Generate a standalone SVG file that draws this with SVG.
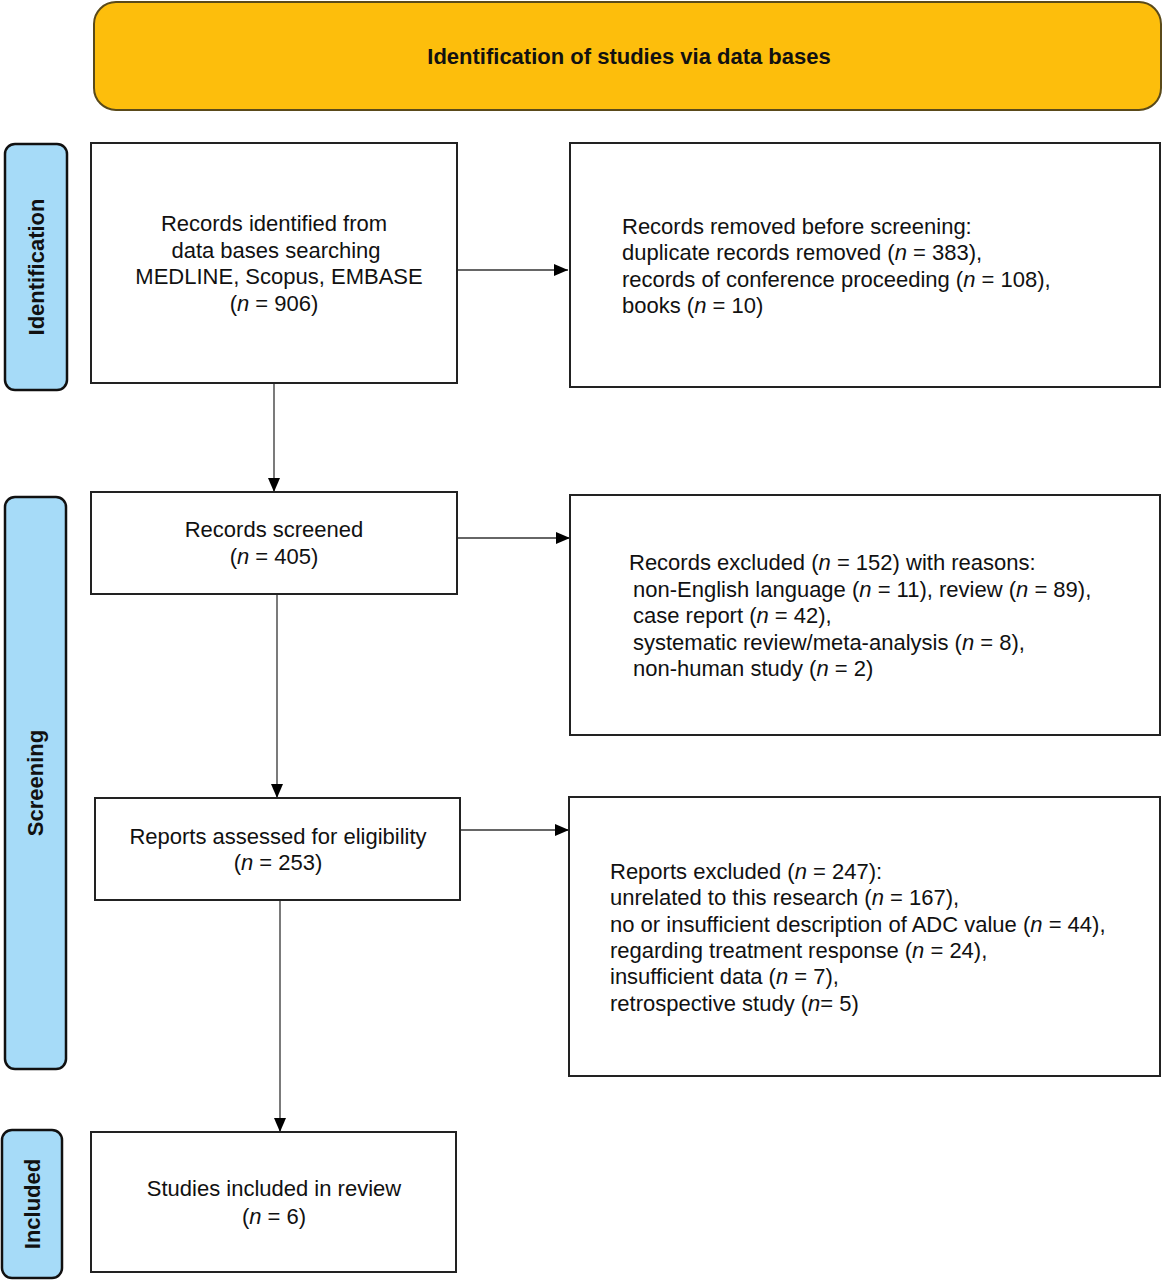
<svg xmlns="http://www.w3.org/2000/svg" width="1163" height="1280" viewBox="0 0 1163 1280">
<defs>
<marker id="ah" viewBox="0 0 14 12" refX="14" refY="6" markerWidth="14" markerHeight="12" markerUnits="userSpaceOnUse" orient="auto">
<path d="M0,0 L14,6 L0,12 Z" fill="#000"/>
</marker>
<style>
.box{fill:#fff;stroke:#222;stroke-width:2}
.side{fill:#A6DBF8;stroke:#111;stroke-width:2.5}
.t{font-family:"Liberation Sans",Arial,sans-serif;font-size:22px;fill:#111}
.c{text-anchor:middle}
.lab{font-family:"Liberation Sans",Arial,sans-serif;font-size:22px;font-weight:bold;fill:#111;text-anchor:middle}
.ln{stroke:#333;stroke-width:1.3;fill:none;marker-end:url(#ah)}
</style>
</defs>
<rect width="1163" height="1280" fill="#fff"/>
<g id="header">
<rect x="94" y="2" width="1067" height="108" rx="22" fill="#FDBE0C" stroke="#5A4A1A" stroke-width="2"/>
<text x="629" y="64" class="lab">Identification of studies via data bases</text>
</g>
<g id="lane-identification">
<rect x="5" y="144" width="62" height="246" rx="10" class="side"/>
<text class="lab" transform="translate(44,267) rotate(-90)">Identification</text>
</g>
<g id="lane-screening">
<rect x="5" y="497" width="61" height="572" rx="10" class="side"/>
<text class="lab" transform="translate(43,783) rotate(-90)">Screening</text>
</g>
<g id="lane-included">
<rect x="2" y="1130" width="60" height="148" rx="10" class="side"/>
<text class="lab" transform="translate(40,1204) rotate(-90)">Included</text>
</g>
<g id="connectors">
<line x1="458" y1="270" x2="568" y2="270" class="ln"/>
<line x1="274" y1="383" x2="274" y2="492" class="ln"/>
<line x1="458" y1="538" x2="570" y2="538" class="ln"/>
<line x1="277" y1="594" x2="277" y2="798" class="ln"/>
<line x1="461" y1="830" x2="569" y2="830" class="ln"/>
<line x1="280" y1="900" x2="280" y2="1132" class="ln"/>
</g>
<g id="records-identified">
<rect x="91" y="143" width="366" height="240" class="box"/>
<text class="t c" x="274" y="231">Records identified from</text>
<text class="t c" x="276" y="258">data bases searching</text>
<text class="t c" x="279" y="284">MEDLINE, Scopus, EMBASE</text>
<text class="t c" x="274" y="311">(<tspan font-style="italic">n</tspan> = 906)</text>
</g>
<g id="records-removed">
<rect x="570" y="143" width="590" height="244" class="box"/>
<text class="t" x="622" y="234">Records removed before screening:</text>
<text class="t" x="622" y="260">duplicate records removed (<tspan font-style="italic">n</tspan> = 383),</text>
<text class="t" x="622" y="287">records of conference proceeding (<tspan font-style="italic">n</tspan> = 108),</text>
<text class="t" x="622" y="313">books (<tspan font-style="italic">n</tspan> = 10)</text>
</g>
<g id="records-screened">
<rect x="91" y="492" width="366" height="102" class="box"/>
<text class="t c" x="274" y="537">Records screened</text>
<text class="t c" x="274" y="564">(<tspan font-style="italic">n</tspan> = 405)</text>
</g>
<g id="records-excluded">
<rect x="570" y="495" width="590" height="240" class="box"/>
<text class="t" x="629" y="570">Records excluded (<tspan font-style="italic">n</tspan> = 152) with reasons:</text>
<text class="t" x="633" y="597">non-English language (<tspan font-style="italic">n</tspan> = 11), review (<tspan font-style="italic">n</tspan> = 89),</text>
<text class="t" x="633" y="623">case report (<tspan font-style="italic">n</tspan> = 42),</text>
<text class="t" x="633" y="650">systematic review/meta-analysis (<tspan font-style="italic">n</tspan> = 8),</text>
<text class="t" x="633" y="676">non-human study (<tspan font-style="italic">n</tspan> = 2)</text>
</g>
<g id="reports-assessed">
<rect x="95" y="798" width="365" height="102" class="box"/>
<text class="t c" x="278" y="844">Reports assessed for eligibility</text>
<text class="t c" x="278" y="870">(<tspan font-style="italic">n</tspan> = 253)</text>
</g>
<g id="reports-excluded">
<rect x="569" y="797" width="591" height="279" class="box"/>
<text class="t" x="610" y="879">Reports excluded (<tspan font-style="italic">n</tspan> = 247):</text>
<text class="t" x="610" y="905">unrelated to this research (<tspan font-style="italic">n</tspan> = 167),</text>
<text class="t" x="610" y="932">no or insufficient description of ADC value (<tspan font-style="italic">n</tspan> = 44),</text>
<text class="t" x="610" y="958">regarding treatment response (<tspan font-style="italic">n</tspan> = 24),</text>
<text class="t" x="610" y="984">insufficient data (<tspan font-style="italic">n</tspan> = 7),</text>
<text class="t" x="610" y="1011">retrospective study (<tspan font-style="italic">n</tspan>= 5)</text>
</g>
<g id="studies-included">
<rect x="91" y="1132" width="365" height="140" class="box"/>
<text class="t c" x="274" y="1196">Studies included in review</text>
<text class="t c" x="274" y="1224">(<tspan font-style="italic">n</tspan> = 6)</text>
</g>
</svg>
